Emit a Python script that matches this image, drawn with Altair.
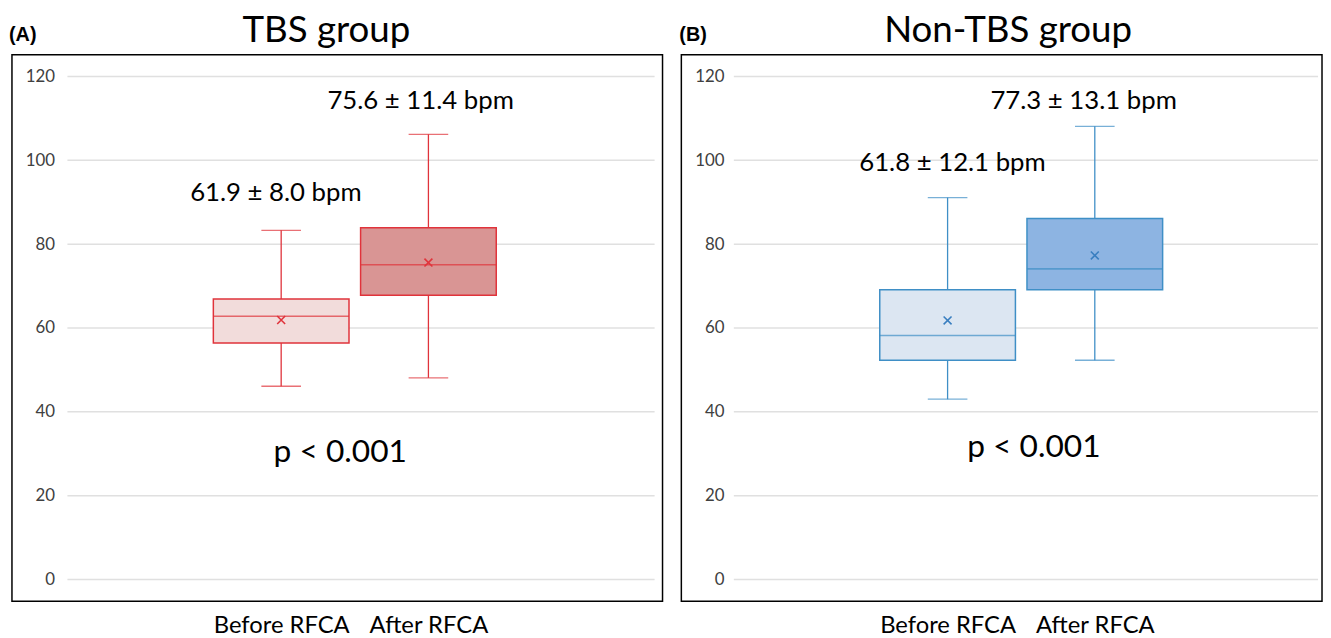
import altair as alt
import pandas as pd

# ---------------- data ----------------
categories = ["Before RFCA", "After RFCA"]
positions = [1, 2]
panel_letters = ["(A)", "(B)"]
panel_titles = ["TBS group", "Non-TBS group"]
y_ticks = [0, 20, 40, 60, 80, 100, 120]

tbs_lower = [46.1, 48.1]
tbs_q1 = [56.4, 67.8]
tbs_median = [62.8, 75.1]
tbs_q3 = [66.9, 83.9]
tbs_upper = [83.3, 106.2]
tbs_mean = [61.9, 75.6]
tbs_labels = ["61.9 ± 8.0 bpm", "75.6 ± 11.4 bpm"]
tbs_label_x = [0.964, 1.947]
tbs_label_y = [92.1, 114.1]

non_lower = [43.0, 52.3]
non_q1 = [52.3, 69.1]
non_median = [58.2, 74.1]
non_q3 = [69.1, 86.1]
non_upper = [91.1, 108.1]
non_mean = [61.8, 77.3]
non_labels = ["61.8 ± 12.1 bpm", "77.3 ± 13.1 bpm"]
non_label_x = [1.033, 1.924]
non_label_y = [99.3, 114.1]

p_texts = ["p < 0.001", "p < 0.001"]
p_x = [1.401, 1.586]
p_y = [30.5, 31.5]

# ---------------- styles ----------------
FONT = "Lato"
Y_DOMAIN = [-5.2, 125.2]
HEIGHT = 552
X_EXPR = "datum.value == 1 ? '%s' : '%s'" % (categories[0], categories[1])


def panel(idx, lower, q1, median, q3, upper, mean, labels, lab_x, lab_y,
          width, x_domain, stroke, fills, mean_color, grid_x, grid_x2, title_x, letter_x):
    box = pd.DataFrame({
        "category": categories, "pos": positions, "lower": lower, "q1": q1,
        "median": median, "q3": q3, "upper": upper, "mean": mean,
    })
    ann = pd.DataFrame({"label": labels, "lx": lab_x, "ly": lab_y})
    pval = pd.DataFrame({"label": [p_texts[idx]], "lx": [p_x[idx]], "ly": [p_y[idx]]})
    grid = pd.DataFrame({"tick": y_ticks})
    head = pd.DataFrame({"letter": [panel_letters[idx]], "title": [panel_titles[idx]]})

    xs = alt.Scale(domain=x_domain, nice=False, zero=False)
    ys = alt.Scale(domain=Y_DOMAIN, nice=False, zero=False)
    x_axis = alt.Axis(values=positions, labelExpr=X_EXPR, grid=False, domain=False,
                      ticks=False, labelPadding=13, labelFont=FONT,
                      labelFontSize=24, labelColor="black", labelFlush=False,
                      title=None)
    y_axis = alt.Axis(values=y_ticks, grid=False, domain=False, ticks=False,
                      offset=-45, labelPadding=2, labelFont=FONT,
                      labelFontSize=17, labelColor="#404040", title=None)
    xq = lambda f: alt.X(f, type="quantitative", scale=xs, axis=x_axis)
    yq = lambda f: alt.Y(f, type="quantitative", scale=ys, axis=y_axis)

    gridlayer = alt.Chart(grid).mark_rule(color="#e0e0e0", strokeWidth=1.5).encode(
        y=yq("tick"), x=alt.value(grid_x), x2=alt.value(grid_x2),
    )

    whisk = alt.Chart(box).mark_rule(color=stroke, strokeWidth=1.3).encode(
        x=xq("pos"), y=yq("lower"), y2="upper")
    cap_lo = alt.Chart(box).mark_tick(color=stroke, orient="horizontal", size=40,
                                      thickness=1.3).encode(x=xq("pos"), y=yq("lower"))
    cap_hi = alt.Chart(box).mark_tick(color=stroke, orient="horizontal", size=40,
                                      thickness=1.3).encode(x=xq("pos"), y=yq("upper"))
    bars = alt.Chart(box).mark_bar(size=137, stroke=stroke, strokeWidth=1.5).encode(
        x=xq("pos"), y=yq("q1"), y2="q3",
        fill=alt.Fill("category:N", scale=alt.Scale(domain=categories, range=fills),
                      legend=None),
    )
    med = alt.Chart(box).mark_tick(color=stroke, orient="horizontal", size=137,
                                   thickness=1.6).encode(x=xq("pos"), y=yq("median"))
    mn = alt.Chart(box).mark_point(shape="M-1,-1L1,1M-1,1L1,-1", size=64, filled=False,
                                   color=mean_color, strokeWidth=1.6, opacity=1).encode(
        x=xq("pos"), y=yq("mean"))

    ann_t = alt.Chart(ann).mark_text(font=FONT, fontSize=26, color="black").encode(
        x=xq("lx"), y=yq("ly"), text="label:N")
    p_t = alt.Chart(pval).mark_text(font=FONT, fontSize=32, color="black").encode(
        x=xq("lx"), y=yq("ly"), text="label:N")

    letter = alt.Chart(head).mark_text(font="Liberation Sans", fontWeight="bold",
                                       fontSize=20, align="left", baseline="middle",
                                       color="black").encode(
        x=alt.value(letter_x), y=alt.value(-20), text="letter:N")
    title = alt.Chart(head).mark_text(font=FONT, fontSize=37, align="center",
                                      baseline="alphabetic", color="black").encode(
        x=alt.value(title_x), y=alt.value(-13), text="title:N")

    return alt.layer(gridlayer, whisk, cap_lo, cap_hi, bars, med, mn,
                     ann_t, p_t, letter, title).properties(width=width, height=HEIGHT)


left = panel(0, tbs_lower, tbs_q1, tbs_median, tbs_q3, tbs_upper, tbs_mean,
             tbs_labels, tbs_label_x, tbs_label_y,
             width=657, x_domain=[-0.7947, 3.5563], stroke="#e0333b",
             fills=["#f2dcdb", "#d99594"], mean_color="#e0333b",
             grid_x=56, grid_x2=649, title_x=317.5, letter_x=-3)

right = panel(1, non_lower, non_q1, non_median, non_q3, non_upper, non_mean,
              non_labels, non_label_x, non_label_y,
              width=647, x_domain=[-0.775, 3.5098], stroke="#3f8fc6",
              fills=["#dce6f2", "#8db4e2"], mean_color="#3a7fc0",
              grid_x=53, grid_x2=643, title_x=330, letter_x=-2)

chart = alt.hconcat(left, right, spacing=15).resolve_scale(
    x="independent", y="independent", fill="independent"
).properties(
    padding={"left": 0, "top": 0, "right": 0, "bottom": 0},
    background="white",
).configure_view(stroke="black", strokeWidth=1.5)

chart.save("out.html", embed_options={"renderer": "svg", "actions": False})
